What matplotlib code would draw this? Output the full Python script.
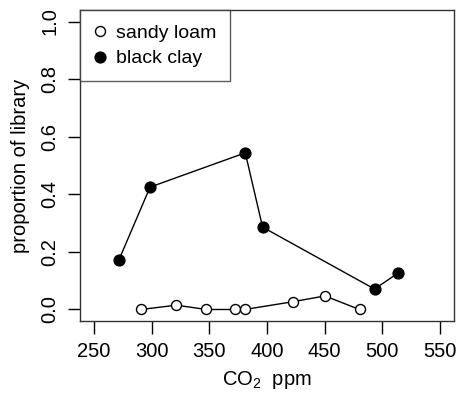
import matplotlib
matplotlib.use("Agg")
import matplotlib.pyplot as plt

plt.rcParams['font.family'] = ['Liberation Sans', 'DejaVu Sans']
plt.rcParams['mathtext.default'] = 'regular'

# dados
sandy_co2 = [290.7, 321.5, 347.5, 372.3, 380.7, 422.5, 450.2, 480.2]
sandy_prop = [0.0, 0.015, 0.0, 0.0, 0.0, 0.027, 0.047, 0.0]
clay_co2 = [271.6, 298.7, 381.2, 396.2, 493.2, 513.7]
clay_prop = [0.171, 0.425, 0.544, 0.286, 0.071, 0.127]

x_ticks = [250, 300, 350, 400, 450, 500, 550]
y_ticks = [0.0, 0.2, 0.4, 0.6, 0.8, 1.0]

fig = plt.figure(figsize=(4.57, 3.95), dpi=100)
ax = fig.add_axes([0.175, 0.1873, 0.8184, 0.7874])

ax.plot(sandy_co2, sandy_prop, color='black', lw=1.0, marker='o', ms=7.2,
        mfc='white', mec='black', mew=1.0, label='sandy loam')
ax.plot(clay_co2, clay_prop, color='black', lw=1.0, marker='o', ms=7.8,
        mfc='black', mec='black', label='black clay')

ax.set_xlim(238, 562)
ax.set_ylim(-0.04, 1.04)
ax.set_xticks(x_ticks)
ax.set_yticks(y_ticks)
ax.set_yticklabels([f'{v:.1f}' for v in y_ticks], rotation=90, va='center')
ax.tick_params(direction='out', length=9, width=1, labelsize=14.5, pad=6)

for s in ax.spines.values():
    s.set_linewidth(1.0)
    s.set_color('#333333')

ax.set_xlabel('CO$_2$  ppm', fontsize=14.5, labelpad=6)
ax.set_ylabel('proportion of library', fontsize=14.5, labelpad=7)

leg = ax.legend(loc='upper left', fontsize=14, frameon=True, fancybox=False,
                borderaxespad=0, handlelength=0.62, handletextpad=0.5,
                borderpad=0.72, labelspacing=0.42)
leg.get_frame().set_edgecolor('#333333')
leg.get_frame().set_linewidth(1.0)
for h in leg.get_lines():
    h.set_linestyle('none')

fig.savefig('out.png', dpi=100)
